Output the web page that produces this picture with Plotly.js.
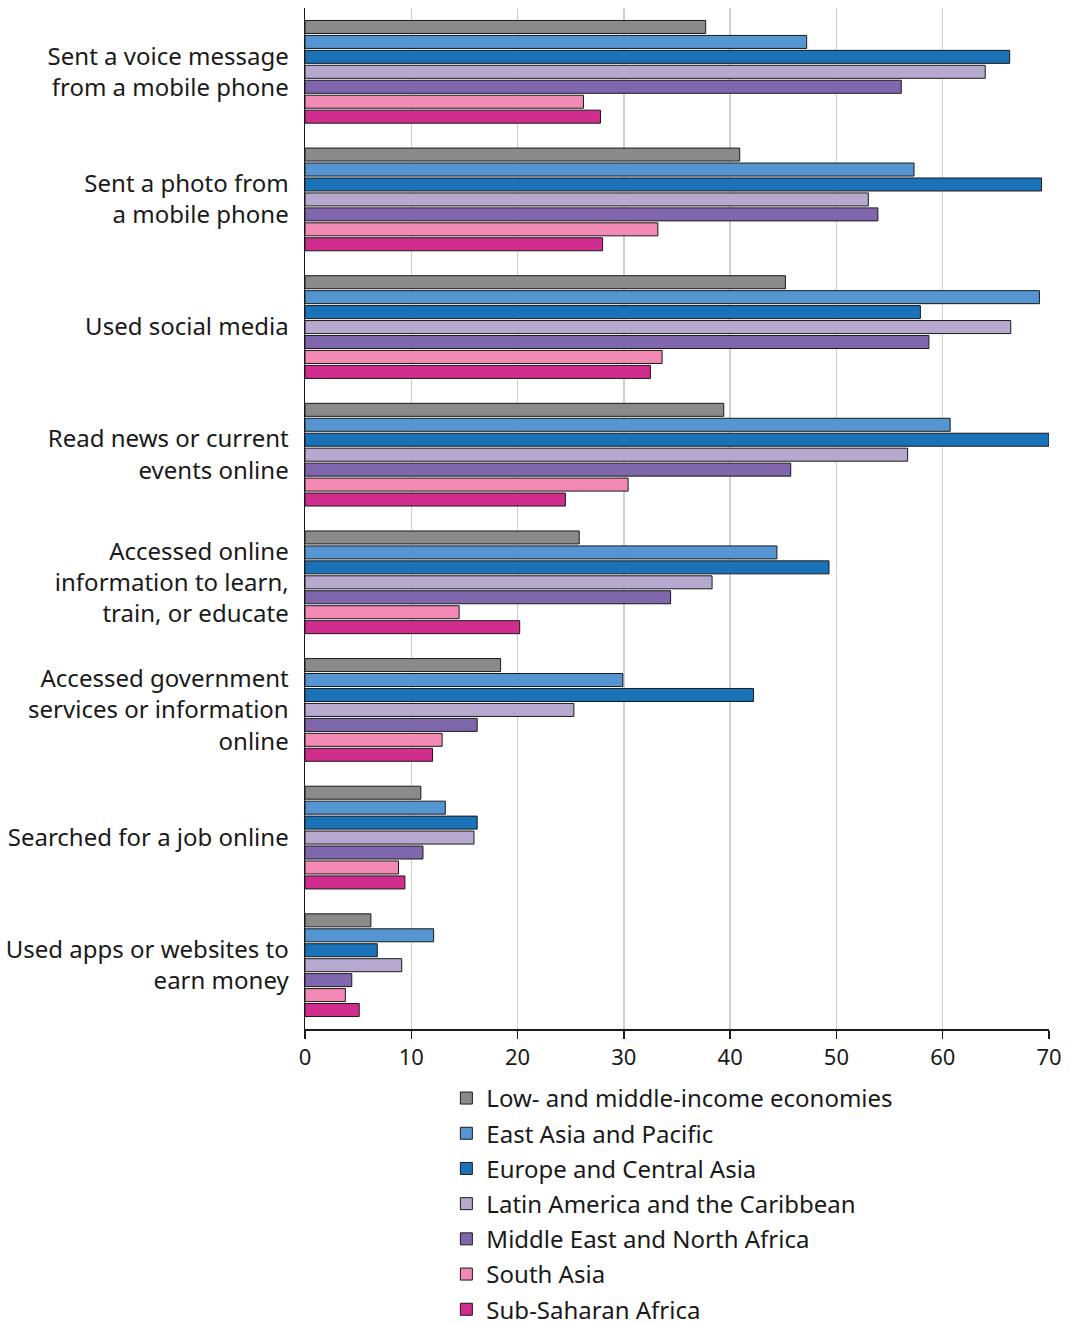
<!DOCTYPE html>
<html>
<head>
<meta charset="utf-8">
<script src="https://cdn.plot.ly/plotly-3.0.1.min.js"></script>
<style>html,body{margin:0;padding:0;background:#fff;}#chart{width:1070px;height:1325px;}</style>
</head>
<body>
<div id="chart"></div>
<script>
const categories = [
  "Sent a voice message<br>from a mobile phone",
  "Sent a photo from<br>a mobile phone",
  "Used social media",
  "Read news or current<br>events online",
  "Accessed online<br>information to learn,<br>train, or educate",
  "Accessed government<br>services or information<br>online",
  "Searched for a job online",
  "Used apps or websites to<br>earn money"
];
const seriesNames = [
  "Low- and middle-income economies",
  "East Asia and Pacific",
  "Europe and Central Asia",
  "Latin America and the Caribbean",
  "Middle East and North Africa",
  "South Asia",
  "Sub-Saharan Africa"
];
const lowMiddleIncome   = [37.7, 40.9, 45.2, 39.4, 25.8, 18.4, 10.9, 6.2];
const eastAsiaPacific   = [47.2, 57.3, 69.1, 60.7, 44.4, 29.9, 13.2, 12.1];
const europeCentralAsia = [66.3, 69.3, 57.9, 70.0, 49.3, 42.2, 16.2, 6.8];
const latinAmerica      = [64.0, 53.0, 66.4, 56.7, 38.3, 25.3, 15.9, 9.1];
const middleEastNA      = [56.1, 53.9, 58.7, 45.7, 34.4, 16.2, 11.1, 4.4];
const southAsia         = [26.2, 33.2, 33.6, 30.4, 14.5, 12.9, 8.8, 3.8];
const subSaharanAfrica  = [27.8, 28.0, 32.5, 24.5, 20.2, 12.0, 9.4, 5.1];
const xTicks = [0, 10, 20, 30, 40, 50, 60, 70];

const seriesValues = [lowMiddleIncome, eastAsiaPacific, europeCentralAsia, latinAmerica, middleEastNA, southAsia, subSaharanAfrica];
const colors = ["#8a8a8a", "#5596d2", "#1a72b9", "#b7a8cf", "#8067ad", "#f28ab5", "#d12d8f"];

const font = "Noto Sans, Open Sans, sans-serif";
const traces = seriesNames.map((name, i) => ({
  type: "bar",
  orientation: "h",
  name: name,
  legendgroup: "g" + i,
  y: categories,
  x: seriesValues[i],
  marker: {color: colors[i], line: {color: "#1a1a1a", width: 1}},
  hoverinfo: "x+name"
}));

const layout = {
  width: 1070,
  height: 1325,
  margin: {l: 305, r: 21, t: 8, b: 296, autoexpand: false},
  paper_bgcolor: "#ffffff",
  plot_bgcolor: "#ffffff",
  font: {family: font, color: "#1a1a1a", size: 24},
  barmode: "group",
  bargap: 0.18,
  bargroupgap: 0.13,
  xaxis: {
    range: [0, 70],
    tickvals: xTicks,
    ticktext: xTicks.map(String),
    showgrid: true,
    gridcolor: "#cfcfcf",
    gridwidth: 1.5,
    zeroline: false,
    showline: true,
    linecolor: "#1a1a1a",
    linewidth: 1.5,
    ticks: "outside",
    ticklen: 8,
    tickwidth: 1.5,
    tickcolor: "#1a1a1a",
    ticklabelstandoff: 0,
    tickfont: {size: 22, family: font, color: "#1a1a1a"},
    fixedrange: true
  },
  yaxis: {
    type: "category",
    range: [7.5, -0.5],
    showgrid: false,
    showline: true,
    linecolor: "#1a1a1a",
    linewidth: 1.5,
    ticks: "",
    ticklabelstandoff: 10,
    tickfont: {size: 24, family: font, color: "#1a1a1a"},
    fixedrange: true
  },
  showlegend: true,
  legend: {
    x: 0.19,
    xanchor: "left",
    y: -0.046,
    yanchor: "top",
    orientation: "v",
    traceorder: "grouped",
    tracegroupgap: 1,
    font: {size: 24, family: font, color: "#1a1a1a"},
    bgcolor: "rgba(0,0,0,0)"
  }
};

Plotly.newPlot("chart", traces, layout, {displayModeBar: false, staticPlot: true});
</script>
</body>
</html>
